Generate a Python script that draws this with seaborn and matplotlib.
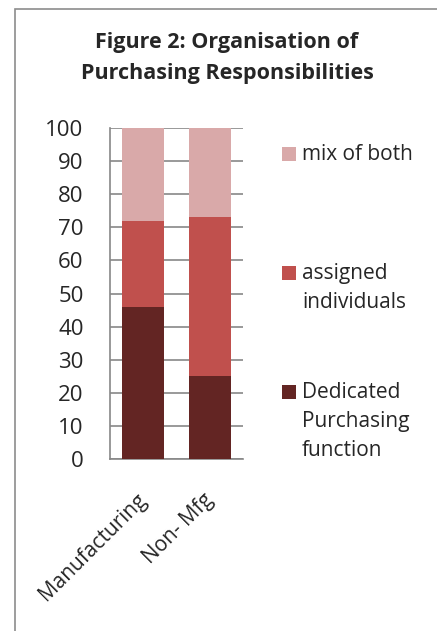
import matplotlib
matplotlib.use("Agg")
import matplotlib.pyplot as plt
import seaborn as sns
import pandas as pd
from matplotlib.patches import Rectangle
from matplotlib.transforms import ScaledTranslation

# data (percent)
sectors = ["Manufacturing", "Non- Mfg"]
dedicated = [46, 25]
assigned = [26, 48]
mix_both = [28, 27]

series_names = ["Dedicated\nPurchasing\nfunction", "assigned\nindividuals", "mix of both"]
colors = ["#632523", "#C0504D", "#D9A9A9"]

sns.set_style("white")
plt.rcParams['font.family'] = ['Open Sans', 'DejaVu Sans']

df = pd.DataFrame({"sector": sectors, "dedicated": dedicated,
                   "assigned": assigned, "mix": mix_both})
df["c1"] = df["dedicated"]
df["c2"] = df["c1"] + df["assigned"]
df["c3"] = df["c2"] + df["mix"]

fig = plt.figure(figsize=(4.37, 6.31), dpi=100)
ax = fig.add_axes([110/437, 1 - 459/631, 133/437, 331/631])

# stacked bars: draw tallest cumulative first
for col, c in zip(["c3", "c2", "c1"], colors[::-1]):
    sns.barplot(data=df, x="sector", y=col, color=c, width=0.63,
                saturation=1, ax=ax, zorder=3, linewidth=0)

ax.set_ylim(0, 100)
ax.set_xlim(-0.5, 1.5)
ax.set_yticks(range(0, 101, 10))
ax.yaxis.grid(True, color="#878787", linewidth=1.2, zorder=0)
ax.set_axisbelow(True)
for s in ["top", "right"]:
    ax.spines[s].set_visible(False)
for s in ["left", "bottom"]:
    ax.spines[s].set_color("#878787")
    ax.spines[s].set_linewidth(1.2)
ax.set_xlabel("")
ax.set_ylabel("")
ax.tick_params(axis="y", labelsize=16, length=0, pad=19)
ax.tick_params(axis="x", labelsize=15, length=0, pad=22)
shift = ScaledTranslation(-0.07, 0, fig.dpi_scale_trans)
for lab in ax.get_xticklabels():
    lab.set_rotation(45)
    lab.set_ha("right")
    lab.set_rotation_mode("anchor")
    lab.set_transform(lab.get_transform() + shift)

fig.suptitle("Figure 2: Organisation of\nPurchasing Responsibilities",
             x=227/437, y=1 - 32/631, fontsize=15.5, fontweight="bold",
             va="top", linespacing=1.6)

# legend, square next to first text line
legend_top = [147, 266, 385]
for name, c, yy in zip(series_names[::-1], colors[::-1], legend_top):
    fig.patches.append(Rectangle((282/437, 1 - (yy + 14)/631), 14/437, 14/631,
                                 transform=fig.transFigure, facecolor=c,
                                 edgecolor="none"))
    fig.text(302/437, 1 - (yy - 3)/631, name, fontsize=15, va="top",
             linespacing=1.5)

# chart border (right and bottom edges run off the picture)
fig.patches.append(Rectangle((15/437, -0.1), 1.2, 1.1 - 9/631,
                             transform=fig.transFigure, fill=False,
                             edgecolor="#8c8c8c", linewidth=1.2))

fig.savefig("out.png", dpi=100)
